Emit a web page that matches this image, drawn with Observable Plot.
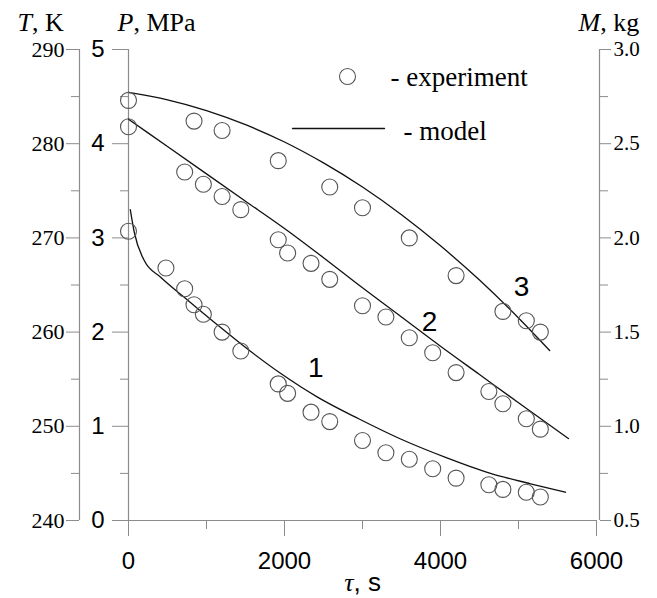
<!DOCTYPE html>
<html>
<head>
<meta charset="utf-8">
<script src="https://cdn.jsdelivr.net/npm/d3@7"></script>
<script src="https://cdn.jsdelivr.net/npm/@observablehq/plot@0.6"></script>
<style>
  html, body { margin: 0; padding: 0; background: #fff; }
  #chart svg { display: block; }
</style>
</head>
<body>
<div id="chart"></div>
<script>
// ---- Data ----
// Curve 1: temperature T, K
const expTime1 = [0, 480, 720, 840, 960, 1200, 1440, 1920, 2040, 2340, 2580, 3000, 3300, 3600, 3900, 4200, 4620, 4800, 5100, 5280];
const expT1 = [270.7, 266.8, 264.6, 262.9, 261.9, 260.0, 258.0, 254.5, 253.5, 251.5, 250.5, 248.5, 247.2, 246.5, 245.5, 244.5, 243.8, 243.3, 243.0, 242.5];
const modelTime1 = [23, 74, 202, 416, 714, 1142, 1526, 1953, 2423, 2951, 3489, 4065, 4641, 5154, 5602];
const modelT1 = [273.0, 270.6, 267.6, 265.8, 263.7, 260.75, 258.2, 255.6, 253.1, 250.8, 248.65, 246.7, 245.0, 243.9, 243.0];

// Curve 2: pressure P, MPa
const expTime2 = [0, 720, 960, 1200, 1440, 1920, 2040, 2340, 2580, 3000, 3300, 3600, 3900, 4200, 4620, 4800, 5100, 5280];
const expP2 = [4.18, 3.70, 3.57, 3.44, 3.30, 2.98, 2.84, 2.73, 2.56, 2.28, 2.16, 1.94, 1.78, 1.57, 1.37, 1.24, 1.08, 0.97];
const modelTime2 = [0, 500, 1000, 1500, 2000, 2500, 3000, 3500, 4000, 4500, 5000, 5640];
const modelP2 = [4.26, 3.97, 3.68, 3.39, 3.10, 2.79, 2.47, 2.16, 1.85, 1.55, 1.25, 0.87];

// Curve 3: mass M, kg
const expTime3 = [0, 840, 1200, 1920, 2580, 3000, 3600, 4200, 4800, 5100, 5280];
const expM3 = [2.73, 2.62, 2.57, 2.41, 2.27, 2.16, 2.00, 1.80, 1.61, 1.56, 1.50];
const modelTime3 = [0, 500, 1000, 1500, 2000, 2500, 3000, 3500, 4000, 4500, 5000, 5400];
const modelM3 = [2.772, 2.733, 2.676, 2.601, 2.509, 2.398, 2.270, 2.123, 1.958, 1.776, 1.575, 1.402];

// Tick labels
const xTicks = [0, 2000, 4000, 6000];
const xMinor = [1000, 3000, 5000];
const pTicks = [0, 1, 2, 3, 4, 5];
const tTicks = [240, 250, 260, 270, 280, 290];
const mTicks = [0.5, 1.0, 1.5, 2.0, 2.5, 3.0];

// Curve labels
const curveNames = ["1", "2", "3"];

// ---- Shared vertical scale: P (MPa); T and M are mapped onto it ----
const fromT = T => (T - 240) / 10;
const fromM = M => (M - 0.5) * 2;
const toT = p => 240 + 10 * p;
const toM = p => 0.5 + p / 2;

const exp1 = expTime1.map((t, i) => ({t, y: fromT(expT1[i])}));
const exp2 = expTime2.map((t, i) => ({t, y: expP2[i]}));
const exp3 = expTime3.map((t, i) => ({t, y: fromM(expM3[i])}));
const mod1 = modelTime1.map((t, i) => ({t, y: fromT(modelT1[i])}));
const mod2 = modelTime2.map((t, i) => ({t, y: modelP2[i]}));
const mod3 = modelTime3.map((t, i) => ({t, y: fromM(modelM3[i])}));
const labels = [
  {t: 2400, y: fromT(256.2), s: curveNames[0]},
  {t: 3860, y: 2.11, s: curveNames[1]},
  {t: 5040, y: fromM(1.74), s: curveNames[2]}
];

const SANS = "'Liberation Sans', Arial, Helvetica, sans-serif";
const SERIF = "'Liberation Serif', 'Times New Roman', serif";
const AX = "#8c8c8c";

const half = pTicks.slice(0, -1).map(d => d + 0.5);

const chart = Plot.plot({
  width: 657,
  height: 598,
  marginLeft: 128,
  marginRight: 61,
  marginTop: 49,
  marginBottom: 78,
  x: {domain: [0, 6000]},
  y: {domain: [0, 5]},
  style: {background: "#fff", overflow: "visible"},
  marks: [
    // axis lines
    Plot.ruleX([0], {stroke: AX, strokeWidth: 1.2}),
    Plot.ruleX([0], {stroke: AX, strokeWidth: 1.2, dx: -49}),
    Plot.ruleX([6000], {stroke: AX, strokeWidth: 1.2, dx: 3}),
    Plot.ruleY([0], {stroke: AX, strokeWidth: 1.2}),
    // P axis (main)
    Plot.axisY({ticks: pTicks, tickSize: 16, tickPadding: 8, stroke: AX, fill: "#000",
      fontSize: 24, fontFamily: SANS, label: null, tickFormat: d => String(d)}),
    Plot.axisY({ticks: half, tickSize: 8, stroke: AX, fill: "none", label: null}),
    // T axis (far left)
    Plot.axisY({ticks: tTicks.map(fromT), tickSize: 13, tickPadding: 2, dx: -49, stroke: AX, fill: "#000",
      fontSize: 22, fontFamily: SERIF, label: null, tickFormat: d => String(Math.round(toT(d)))}),
    Plot.axisY({ticks: half, tickSize: 8, dx: -49, stroke: AX, fill: "none", label: null}),
    // M axis (right)
    Plot.axisY({anchor: "right", ticks: mTicks.map(fromM), tickSize: 11, tickPadding: 3, dx: 3, stroke: AX, fill: "#000",
      fontSize: 21, fontFamily: SERIF, label: null, tickFormat: d => toM(d).toFixed(1)}),
    Plot.axisY({anchor: "right", ticks: half, tickSize: 8, dx: 3, stroke: AX, fill: "none", label: null}),
    // x axis
    Plot.axisX({ticks: xTicks, tickSize: 16, tickPadding: 15, stroke: AX, fill: "#000",
      fontSize: 24, fontFamily: SANS, label: null, tickFormat: d => String(d)}),
    Plot.axisX({ticks: xMinor, tickSize: 9, stroke: AX, fill: "none", label: null}),
    // model lines
    Plot.line(mod1, {x: "t", y: "y", curve: "monotone-x", stroke: "#111", strokeWidth: 1.3}),
    Plot.line(mod2, {x: "t", y: "y", curve: "monotone-x", stroke: "#111", strokeWidth: 1.3}),
    Plot.line(mod3, {x: "t", y: "y", curve: "monotone-x", stroke: "#111", strokeWidth: 1.3}),
    // experiment circles
    Plot.dot(exp1, {x: "t", y: "y", r: 8, stroke: "#555", strokeWidth: 1.1, fill: "none"}),
    Plot.dot(exp2, {x: "t", y: "y", r: 8, stroke: "#555", strokeWidth: 1.1, fill: "none"}),
    Plot.dot(exp3, {x: "t", y: "y", r: 8, stroke: "#555", strokeWidth: 1.1, fill: "none"}),
    // curve numbers
    Plot.text(labels, {x: "t", y: "y", text: "s", fontSize: 28, fontFamily: SANS, fill: "#000",
      textAnchor: "middle", lineAnchor: "middle"}),
    // legend
    Plot.dot([0], {frameAnchor: "top-left", dx: 219, dy: 27, r: 8, stroke: "#555", strokeWidth: 1.1, fill: "none"}),
    Plot.text(["- experiment"], {frameAnchor: "top-left", dx: 262, dy: 36, textAnchor: "start", lineAnchor: "bottom",
      fontSize: 27, fontFamily: SERIF, fill: "#000"}),
    Plot.vector([0], {frameAnchor: "top-left", dx: 164, dy: 79, length: 92, anchor: "start", stroke: "#111", strokeWidth: 1.3,
      shape: {draw(ctx, l) { ctx.moveTo(0, 0); ctx.lineTo(l, 0); }}}),
    Plot.text(["- model"], {frameAnchor: "top-left", dx: 275, dy: 90, textAnchor: "start", lineAnchor: "bottom",
      fontSize: 27, fontFamily: SERIF, fill: "#000"}),
    // axis titles
    Plot.text(["T, K"], {frameAnchor: "top-left", dx: -111, dy: -19, textAnchor: "start", lineAnchor: "bottom",
      fontSize: 26, fontFamily: SERIF, fill: "#000"}),
    Plot.text(["P, MPa"], {frameAnchor: "top-left", dx: -11, dy: -19, textAnchor: "start", lineAnchor: "bottom",
      fontSize: 26, fontFamily: SERIF, fill: "#000"}),
    Plot.text(["M, kg"], {frameAnchor: "top-right", dx: -18, dy: -19, textAnchor: "start", lineAnchor: "bottom",
      fontSize: 26, fontFamily: SERIF, fill: "#000"}),
    Plot.text(["τ, s"], {frameAnchor: "bottom-left", dx: 234, dy: 70, textAnchor: "middle", lineAnchor: "bottom",
      fontSize: 26, fontFamily: SANS, fill: "#000"})
  ]
});

// italic symbols in axis titles
const parts = {"T, K": ["T", ", K", SERIF], "P, MPa": ["P", ", MPa", SERIF], "M, kg": ["M", ", kg", SERIF], "τ, s": ["τ", ", s", SERIF]};
d3.select(chart).selectAll("text").each(function() {
  const p = parts[this.textContent];
  if (!p) return;
  this.textContent = "";
  d3.select(this).append("tspan").attr("font-style", "italic").attr("font-family", p[2]).text(p[0]);
  d3.select(this).append("tspan").text(p[1]);
});

document.getElementById("chart").appendChild(chart);
</script>
</body>
</html>
